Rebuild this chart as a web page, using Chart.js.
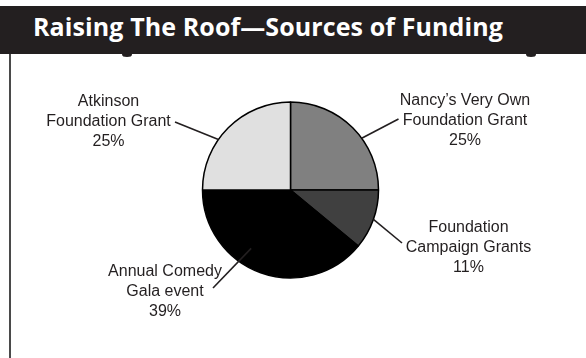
<!DOCTYPE html>
<html>
<head>
<meta charset="utf-8">
<script src="https://cdn.jsdelivr.net/npm/chart.js@4/dist/chart.umd.min.js"></script>
<style>
  html, body { margin: 0; padding: 0; background: #fff; }
  body { width: 586px; height: 358px; position: relative; overflow: hidden; }
  #titlebar {
    position: absolute; left: 0; top: 6px; width: 586px; height: 48px;
    background: #231f20;
  }
  #titlebar h1 {
    position: absolute; left: 33px; top: 0; margin: 0;
    font: bold 25px "Open Sans", Lato, sans-serif; color: #fff;
    line-height: 41px; white-space: nowrap; letter-spacing: 0.1px;
  }
  .nub { position: absolute; top: 52px; width: 10px; height: 5px; border-radius: 50%; background: #231f20; }
  #frame { position: absolute; left: 9px; top: 54px; width: 2px; height: 304px; background: #4a4a4a; }
  #wrap { position: absolute; left: 0; top: 54px; width: 586px; height: 304px; }
</style>
</head>
<body>
<div class="nub" style="left:122px"></div>
<div class="nub" style="left:526px"></div>
<div id="titlebar"><h1>Raising The Roof—Sources of Funding</h1></div>
<div id="frame"></div>
<div id="wrap"><canvas id="chart" width="586" height="304"></canvas></div>
<script>
// Funding sources, clockwise from 12 o'clock
const categories = [
  "Nancy’s Very Own Foundation Grant",
  "Foundation Campaign Grants",
  "Annual Comedy Gala event",
  "Atkinson Foundation Grant"
];
const shares = [25, 11, 39, 25];
const sliceColors = ["#808080", "#404040", "#000000", "#e0e0e0"];
// Text lines of each callout (name split over lines, then percentage)
const labelLines = [
  ["Nancy’s Very Own", "Foundation Grant"],
  ["Foundation", "Campaign Grants"],
  ["Annual Comedy", "Gala event"],
  ["Atkinson", "Foundation Grant"]
];

// Callout placement relative to the pie centre:
// text centre (tx, ty of first line), leader start (lx, ly),
// leader end on/inside the slice at angle (deg) and fraction of radius.
const callouts = [
  { tx: 174.5, ty: -89, lx: 108,   ly: -71, angle: -36,  frac: 1.0 },
  { tx: 178,   ty: 38,  lx: 111.5, ly: 53,  angle: 19.5, frac: 1.0 },
  { tx: -125.5,ty: 82,  lx: -77.5, ly: 98,  angle: 124,  frac: 0.8 },
  { tx: -182,  ty: -88, lx: -115.5,ly: -68, angle: -145, frac: 1.0 }
];

const calloutPlugin = {
  id: 'callouts',
  afterDatasetsDraw(chart) {
    const ctx = chart.ctx;
    const arcs = chart.getDatasetMeta(0).data;
    const values = chart.data.datasets[0].data;
    ctx.save();
    arcs.forEach((arc, i) => {
      const { x: cx, y: cy, outerRadius: r } = arc.getProps(['x', 'y', 'outerRadius'], true);
      const c = callouts[i];
      const a = c.angle * Math.PI / 180;
      // leader line
      ctx.strokeStyle = '#231f20';
      ctx.lineWidth = 1.6;
      ctx.beginPath();
      ctx.moveTo(cx + c.lx, cy + c.ly);
      ctx.lineTo(cx + Math.cos(a) * r * c.frac, cy + Math.sin(a) * r * c.frac);
      ctx.stroke();
      // text
      ctx.fillStyle = '#231f20';
      ctx.font = '16px "Liberation Sans", Arial, sans-serif';
      ctx.textAlign = 'center';
      ctx.textBaseline = 'middle';
      const lines = labelLines[i].concat([values[i] + '%']);
      lines.forEach((t, k) => {
        ctx.fillText(t, cx + c.tx, cy + c.ty + k * 20);
      });
    });
    ctx.restore();
  }
};

new Chart(document.getElementById('chart'), {
  type: 'pie',
  data: {
    labels: categories,
    datasets: [{
      data: shares,
      backgroundColor: sliceColors,
      borderColor: '#000',
      borderWidth: 1.5,
      radius: 88
    }]
  },
  options: {
    responsive: false,
    animation: false,
    layout: { padding: { left: 0, right: 5, top: 0, bottom: 32 } },
    plugins: {
      legend: { display: false },
      tooltip: { enabled: false },
      title: { display: false }
    }
  },
  plugins: [calloutPlugin]
});
</script>
</body>
</html>
